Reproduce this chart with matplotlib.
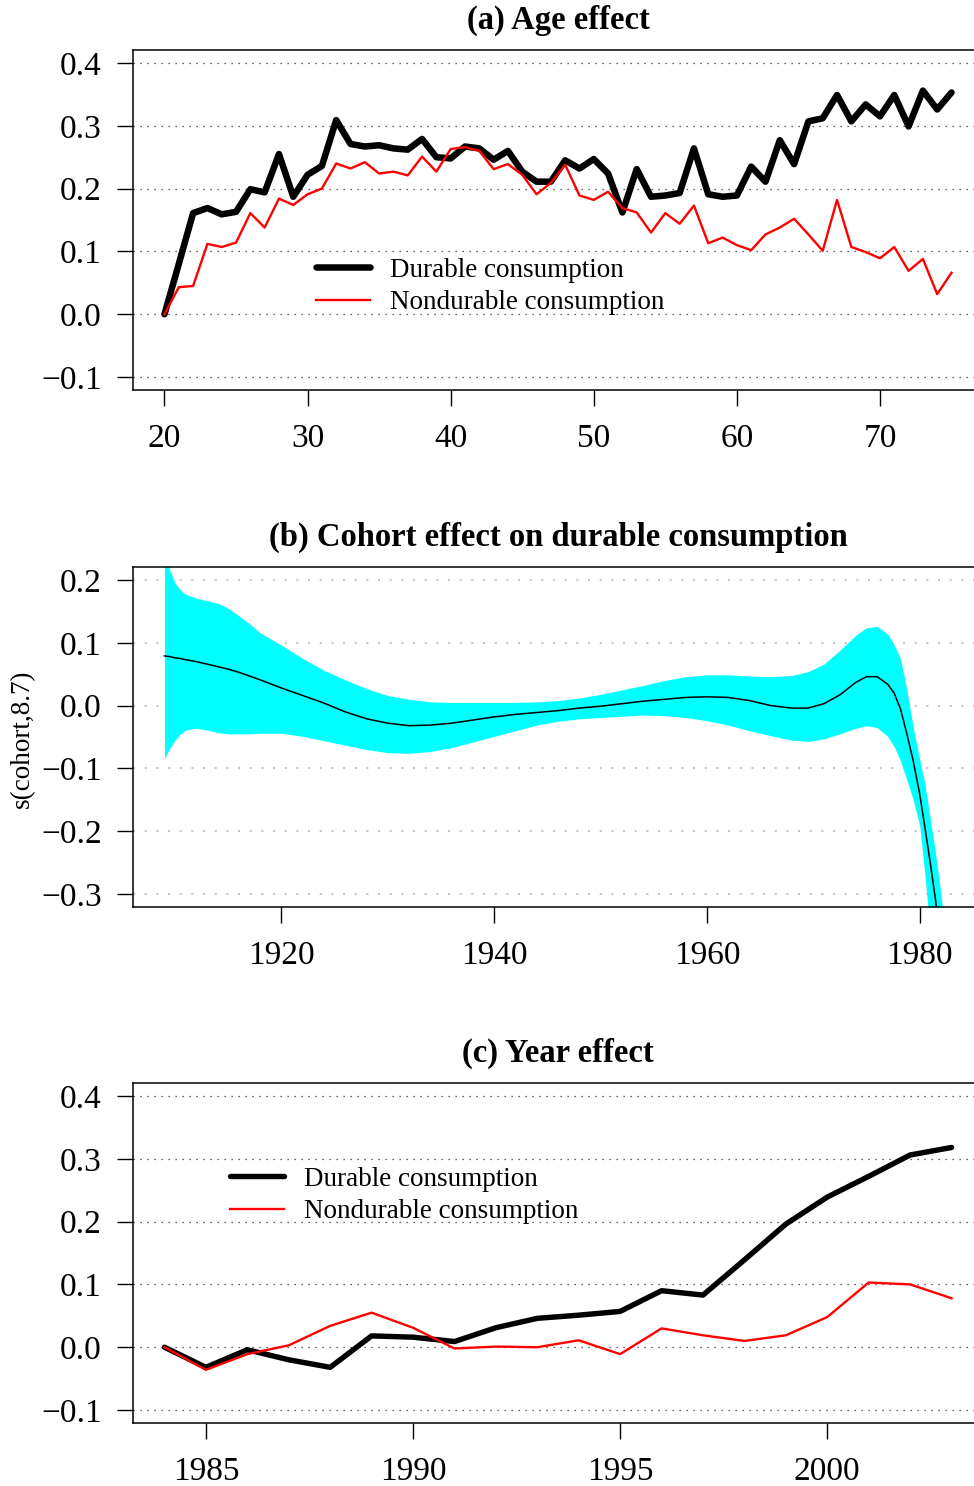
import matplotlib
matplotlib.use("Agg")
import matplotlib.pyplot as plt
import numpy as np

plt.rcParams['font.family'] = ['Liberation Serif', 'DejaVu Serif']

# ---------------- data ----------------
age = list(range(20, 76))
age_durable = [0.0, 0.08, 0.161, 0.169, 0.159, 0.163, 0.199, 0.194, 0.255, 0.187,
               0.222, 0.236, 0.309, 0.271, 0.267, 0.269, 0.264, 0.262, 0.279, 0.250,
               0.248, 0.267, 0.264, 0.246, 0.260, 0.227, 0.211, 0.211, 0.245, 0.232,
               0.247, 0.224, 0.162, 0.231, 0.187, 0.189, 0.193, 0.264, 0.191, 0.187,
               0.189, 0.235, 0.211, 0.277, 0.239, 0.307, 0.312, 0.349, 0.307, 0.334,
               0.315, 0.349, 0.299, 0.356, 0.326, 0.353]
age_nondurable = [0.0, 0.043, 0.045, 0.112, 0.107, 0.114, 0.161, 0.138, 0.184, 0.174,
                  0.191, 0.200, 0.240, 0.232, 0.242, 0.224, 0.227, 0.221, 0.251, 0.227,
                  0.263, 0.266, 0.260, 0.231, 0.239, 0.222, 0.191, 0.209, 0.238, 0.189,
                  0.182, 0.195, 0.169, 0.162, 0.130, 0.161, 0.144, 0.173, 0.113, 0.122,
                  0.110, 0.102, 0.127, 0.138, 0.152, 0.127, 0.101, 0.182, 0.107, 0.099,
                  0.089, 0.107, 0.069, 0.088, 0.032, 0.066]

cohort = [1909, 1909.5, 1910, 1910.5, 1911, 1912, 1913, 1914, 1915, 1916, 1917, 1918,
          1920, 1922, 1924, 1926, 1928, 1930, 1932, 1934, 1936, 1938, 1940, 1942, 1944,
          1946, 1948, 1950, 1952, 1954, 1956, 1958, 1960, 1962, 1964, 1966, 1968, 1969.5,
          1971, 1972.5, 1974, 1975, 1976, 1977, 1977.6, 1978.2, 1978.8, 1979.4, 1980,
          1980.5, 1981, 1981.5, 1982, 1983]
cohort_fit = [0.079, 0.078, 0.076, 0.075, 0.073, 0.070, 0.066, 0.062, 0.058, 0.053, 0.047,
              0.041, 0.028, 0.016, 0.004, -0.010, -0.021, -0.028, -0.032, -0.031, -0.028,
              -0.023, -0.018, -0.014, -0.011, -0.008, -0.004, -0.001, 0.003, 0.007, 0.010,
              0.013, 0.014, 0.013, 0.008, 0.000, -0.004, -0.004, 0.003, 0.017, 0.037,
              0.046, 0.046, 0.034, 0.020, -0.005, -0.045, -0.088, -0.140, -0.194, -0.250,
              -0.310, -0.380, -0.550]
cohort_upper = [0.26, 0.215, 0.195, 0.184, 0.177, 0.171, 0.167, 0.163, 0.155, 0.143, 0.130,
                0.116, 0.096, 0.075, 0.056, 0.041, 0.027, 0.016, 0.010, 0.006, 0.005,
                0.005, 0.005, 0.005, 0.006, 0.008, 0.012, 0.018, 0.025, 0.032, 0.040,
                0.046, 0.049, 0.049, 0.047, 0.046, 0.048, 0.054, 0.066, 0.088, 0.112,
                0.124, 0.126, 0.114, 0.097, 0.075, 0.025, -0.035, -0.085, -0.125, -0.180,
                -0.235, -0.300, -0.450]
cohort_lower = [-0.084, -0.068, -0.055, -0.045, -0.039, -0.036, -0.039, -0.043, -0.045,
                -0.045, -0.045, -0.044, -0.044, -0.049, -0.056, -0.063, -0.070, -0.075,
                -0.076, -0.073, -0.067, -0.058, -0.049, -0.040, -0.031, -0.025, -0.021,
                -0.019, -0.017, -0.015, -0.016, -0.019, -0.024, -0.031, -0.040, -0.048,
                -0.055, -0.057, -0.053, -0.045, -0.036, -0.032, -0.035, -0.049, -0.065,
                -0.088, -0.118, -0.150, -0.190, -0.270, -0.360, -0.450, -0.550, -0.750]

year = list(range(1984, 2004))
year_durable = [0.0, -0.032, -0.004, -0.020, -0.032, 0.018, 0.016, 0.009, 0.031, 0.046,
                0.051, 0.057, 0.090, 0.083, 0.139, 0.196, 0.239, 0.272, 0.306, 0.318]
year_nondurable = [0.0, -0.036, -0.011, 0.003, 0.034, 0.055, 0.031, -0.002, 0.001, 0.0,
                   0.011, -0.011, 0.030, 0.019, 0.010, 0.019, 0.048, 0.103, 0.100, 0.078]

titles = ["(a) Age effect", "(b) Cohort effect on durable consumption", "(c) Year effect"]
legend_labels = ["Durable consumption", "Nondurable consumption"]

# ---------------- figure ----------------
W, H = 974, 1486
fig = plt.figure(figsize=(W / 100, H / 100), dpi=100)

left = 133 / W
width = 850 / W
def pos(top_px, bot_px):
    return [left, 1 - bot_px / H, width, (bot_px - top_px) / H]

ax_a = fig.add_axes(pos(50.4, 389.6))
ax_b = fig.add_axes(pos(567.4, 906.6))
ax_c = fig.add_axes(pos(1083.4, 1422.6))

TICK_FS = 24
for ax in (ax_a, ax_b, ax_c):
    ax.spines['right'].set_visible(False)
    for s in ('left', 'top', 'bottom'):
        ax.spines[s].set_linewidth(1.1)
    ax.tick_params(direction='out', length=11.5, width=1.0, labelsize=TICK_FS)
    ax.tick_params(axis='y', pad=11)
    ax.tick_params(axis='x', pad=13)

def dotted_grid(ax, levels, color, lw, dashes):
    for v in levels:
        ax.axhline(v, color=color, lw=lw, linestyle=(0, dashes), zorder=0.5)

def fmt(vals):
    return [f"{v:.1f}".replace('-', '\u2212') for v in vals]

LEG_KW = dict(loc='center left', frameon=False, fontsize=19.5, handlelength=2.0,
              handletextpad=0.75, labelspacing=0.27, borderpad=0, borderaxespad=0)

# (a) Age effect
yt = [-0.1, 0.0, 0.1, 0.2, 0.3, 0.4]
dotted_grid(ax_a, yt, '#333333', 0.9, (1, 4.6))
ax_a.plot(age, age_durable, color='black', lw=4.7, solid_joinstyle='round',
          solid_capstyle='round', label=legend_labels[0], zorder=3)
ax_a.plot(age, age_nondurable, color='red', lw=1.7, label=legend_labels[1], zorder=4)
ax_a.set_xlim(17.8, 77.2)
ax_a.set_ylim(-0.12, 0.42)
ax_a.set_yticks(yt)
ax_a.set_yticklabels(fmt(yt))
ax_a.set_xticks([20, 30, 40, 50, 60, 70])
ax_a.legend(bbox_to_anchor=(0.2153, 0.304), **LEG_KW)

# (b) Cohort effect
ytb = [-0.3, -0.2, -0.1, 0.0, 0.1, 0.2]
dotted_grid(ax_b, ytb, '#c8c8c8', 1.5, (1, 4.6))
ax_b.fill_between(cohort, cohort_lower, cohort_upper, color='#00ffff', lw=0, zorder=1)
ax_b.plot(cohort, cohort_fit, color='black', lw=1.1, zorder=3)
ax_b.set_xlim(1906.04, 1985.96)
ax_b.set_ylim(-0.32, 0.22)
ax_b.set_yticks(ytb)
ax_b.set_yticklabels(fmt(ytb))
ax_b.set_xticks([1920, 1940, 1960, 1980])
fig.text(22 / W, 1 - 738.5 / H, "s(cohort,8.7)", rotation=90, ha='center', va='center',
         fontsize=19.5)

# (c) Year effect
dotted_grid(ax_c, yt, '#333333', 0.9, (1, 4.6))
ax_c.plot(year, year_durable, color='black', lw=3.9, solid_joinstyle='round',
          solid_capstyle='round', label=legend_labels[0], zorder=3)
ax_c.plot(year, year_nondurable, color='red', lw=1.7, label=legend_labels[1], zorder=4)
ax_c.set_xlim(1983.24, 2003.76)
ax_c.set_ylim(-0.12, 0.42)
ax_c.set_yticks(yt)
ax_c.set_yticklabels(fmt(yt))
ax_c.set_xticks([1985, 1990, 1995, 2000])
ax_c.legend(bbox_to_anchor=(0.1141, 0.670), **LEG_KW)

for ax, t in zip((ax_a, ax_b, ax_c), titles):
    h_px = ax.get_position().height * H
    ax.text(0.5, 1 + 30.5 / h_px, t, transform=ax.transAxes, ha='center', va='center',
            fontsize=23.5, fontweight='bold')

fig.savefig("out.png", dpi=100)
